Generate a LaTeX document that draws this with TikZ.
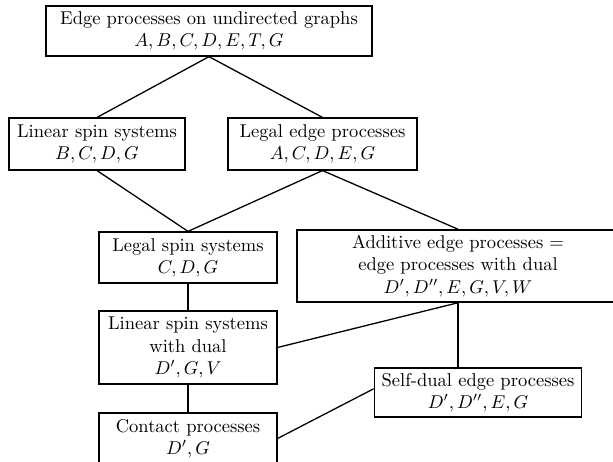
\documentclass[tikz,border=0pt]{standalone}
\usepackage{amssymb}
\usepackage{tikz}
\usetikzlibrary{calc}
\usetikzlibrary{positioning}

\tikzset{
  box/.style={draw,line width=0.7pt,align=center,inner sep=2pt},
}

\begin{document}
\begin{tikzpicture}[x=0.54pt,y=-0.54pt,line width=0.7pt]
  \useasboundingbox (0,0) rectangle (613,462);
  % classes of processes
  \node[box,minimum width=176pt,minimum height=27pt] (top) at (209,31)
    {Edge processes on undirected graphs\\ $A,B,C,D,E,T,G$};
  \node[box,minimum width=95pt,minimum height=28pt] (lin) at (97,144)
    {Linear spin systems\\ $B,C,D,G$};
  \node[box,minimum width=102pt,minimum height=28pt] (legaledge) at (322.5,144)
    {Legal edge processes\\ $A,C,D,E,G$};
  \node[box,minimum width=96pt,minimum height=27.5pt] (legalspin) at (188,257.5)
    {Legal spin systems\\ $C,D,G$};
  \node[box,minimum width=174pt,minimum height=39pt] (additive) at (458,266)
    {Additive edge processes $=$\\ edge processes with dual\\ $D',D'',E,G,V,W$};
  \node[box,minimum width=96pt,minimum height=39.5pt] (lindual) at (188,347.5)
    {Linear spin systems\\ with dual\\ $D',G,V$};
  \node[box,minimum width=112pt,minimum height=26.5pt] (selfdual) at (478,392.5)
    {Self-dual edge processes\\ $D',D'',E,G$};
  \node[box,minimum width=96pt,minimum height=27.5pt] (contact) at (188,438.5)
    {Contact processes\\ $D',G$};
  % inclusions
  \draw (top.south) -- (lin.north);
  \draw (top.south) -- (legaledge.north);
  \draw (lin.south) -- (legalspin.north);
  \draw (legaledge.south) -- (legalspin.north);
  \draw (legaledge.south) -- (additive.north);
  \draw (legalspin.south) -- (lindual.north);
  \draw (additive.south) -- (lindual.east);
  \draw (additive.south) -- (additive.south |- selfdual.north);
  \draw ([yshift=2pt]selfdual.west) -- (contact.east);
  \draw (lindual.south) -- (contact.north);
\end{tikzpicture}
\end{document}
